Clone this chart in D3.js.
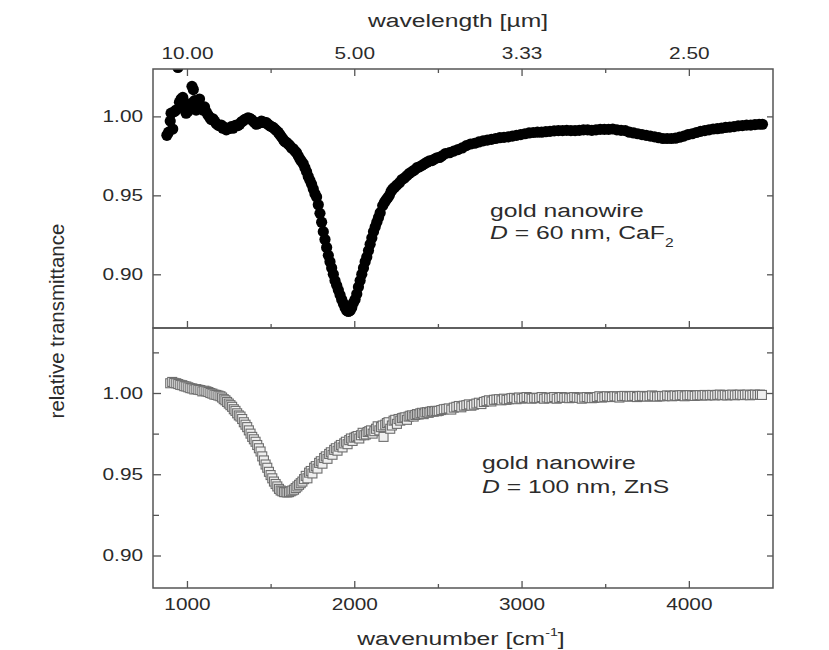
<!DOCTYPE html>
<html>
<head>
<meta charset="utf-8">
<script src="https://cdn.jsdelivr.net/npm/d3@7"></script>
<style>
  body { margin: 0; background: #fff; }
  svg { display: block; font-family: "Liberation Sans", Arial, sans-serif; }
</style>
</head>
<body>
<svg id="chart" width="829" height="650"></svg>
<script>
// tick values (wavenumber in cm^-1, transmittance)
var wavenumberTicks = [1000, 2000, 3000, 4000];
var wavenumberMinor = [1500, 2500, 3500];
var transTicks = [0.90, 0.95, 1.00];
var transMinorLower = [0.925, 0.975, 1.025];

// upper panel: D = 60 nm on CaF2, [wavenumber, relative transmittance]
var caF2Series = [
  [880,0.988],[890,0.990],[900,0.997],[905,1.002],[915,0.992],[925,1.003],[935,1.004],[946,1.031],
  [955,1.009],[965,1.011],[975,1.012],[985,1.005],[995,1.002],[1005,1.003],[1015,1.008],[1030,1.019],
  [1038,1.017],[1045,1.010],[1055,1.004],[1065,1.009],[1075,1.011],[1085,1.006],[1095,1.004],[1105,1.006],
  [1115,1.003],[1125,1.001],[1135,0.9995],[1145,0.998],[1155,0.9985],[1165,0.997],[1175,0.9955],[1185,0.9945],
  [1195,0.994],[1205,0.9945],[1215,0.9925],[1225,0.993],[1235,0.9915],[1245,0.9922],[1255,0.9925],[1265,0.9935],
  [1275,0.9925],[1285,0.994],[1295,0.9945],[1305,0.9942],[1315,0.995],[1325,0.9965],[1335,0.997],[1345,0.998],
  [1355,0.9985],[1365,0.999],[1375,0.9988],[1385,0.998],[1395,0.997],[1405,0.996],[1415,0.995],[1425,0.9955],
  [1435,0.996],[1445,0.997],[1455,0.9965],[1465,0.996],[1475,0.996],[1485,0.995],[1495,0.994],[1505,0.9935],
  [1515,0.993],[1525,0.992],[1535,0.991],[1545,0.990],[1555,0.9885],[1565,0.987],[1575,0.9855],[1585,0.984],
  [1595,0.9835],[1605,0.9825],[1615,0.9815],[1625,0.980],[1635,0.9795],[1645,0.978],[1655,0.977],[1665,0.975],
  [1675,0.973],[1685,0.9715],[1695,0.970],[1705,0.9675],[1715,0.965],[1725,0.962],[1735,0.9595],[1745,0.957],
  [1755,0.954],[1765,0.951],[1775,0.949],[1785,0.944],[1795,0.9386],[1805,0.933],[1815,0.927],[1825,0.922],
  [1835,0.917],[1845,0.912],[1855,0.908],[1865,0.904],[1875,0.900],[1885,0.896],[1895,0.893],[1905,0.890],
  [1915,0.887],[1925,0.884],[1935,0.8815],[1945,0.879],[1955,0.877],[1965,0.8765],[1975,0.877],[1985,0.879],
  [1995,0.882],[2005,0.884],[2015,0.8875],[2025,0.892],[2035,0.896],[2045,0.900],[2055,0.904],[2065,0.908],
  [2075,0.911],[2085,0.915],[2095,0.919],[2105,0.923],[2115,0.927],[2125,0.930],[2135,0.933],[2145,0.936],
  [2155,0.939],[2170,0.9435],[2180,0.9455],[2190,0.947],[2200,0.9485],[2210,0.950],[2220,0.9525],[2230,0.954],
  [2240,0.955],[2255,0.9565],[2270,0.958],[2285,0.960],[2300,0.961],[2315,0.9625],[2330,0.964],[2345,0.965],
  [2360,0.966],[2375,0.9675],[2390,0.968],[2405,0.969],[2420,0.970],[2435,0.971],[2450,0.9718],[2465,0.972],
  [2480,0.973],[2495,0.9738],[2510,0.974],[2525,0.975],[2545,0.9765],[2570,0.977],[2595,0.978],[2620,0.979],
  [2645,0.980],[2670,0.9815],[2695,0.9825],[2720,0.983],[2745,0.9838],[2770,0.9845],[2795,0.985],[2820,0.9855],
  [2845,0.986],[2870,0.9865],[2895,0.9867],[2920,0.987],[2945,0.9875],[2970,0.988],[2995,0.9885],[3020,0.989],
  [3045,0.9895],[3070,0.9898],[3095,0.990],[3120,0.990],[3145,0.9903],[3170,0.9905],[3195,0.9908],[3220,0.991],
  [3245,0.991],[3270,0.9912],[3295,0.991],[3320,0.991],[3345,0.9912],[3370,0.9915],[3395,0.9915],[3420,0.9912],
  [3445,0.9915],[3470,0.9918],[3495,0.9918],[3520,0.9918],[3545,0.992],[3570,0.9915],[3595,0.9912],[3620,0.991],
  [3645,0.990],[3670,0.9895],[3695,0.989],[3720,0.9885],[3745,0.988],[3770,0.9875],[3795,0.987],[3820,0.9865],
  [3845,0.986],[3870,0.986],[3895,0.986],[3920,0.9862],[3945,0.9868],[3970,0.9875],[3995,0.9885],[4020,0.989],
  [4045,0.9898],[4070,0.9905],[4095,0.991],[4120,0.9915],[4145,0.992],[4170,0.9922],[4195,0.9925],[4220,0.993],
  [4245,0.9932],[4270,0.9935],[4295,0.994],[4320,0.9942],[4345,0.9945],[4370,0.9945],[4395,0.9948],[4420,0.995],
  [4440,0.995]
];

// lower panel: D = 100 nm on ZnS
var znSSeries = [
  [900,1.006],[912,1.0068],[924,1.0062],[936,1.006],[948,1.0055],[960,1.005],[972,1.0048],[984,1.0042],
  [996,1.004],[1008,1.0035],[1020,1.003],[1032,1.0028],[1044,1.0022],[1056,1.0024],[1068,1.002],[1080,1.0018],
  [1092,1.001],[1104,1.0014],[1116,1.001],[1128,1.0006],[1140,1.000],[1152,0.9996],[1164,0.999],[1176,0.9988],
  [1188,0.9984],[1200,0.998],[1210,0.9972],[1220,0.9962],[1230,0.9955],[1240,0.9945],[1250,0.9935],[1260,0.9925],
  [1270,0.9915],[1280,0.990],[1290,0.989],[1300,0.9875],[1310,0.9862],[1320,0.9855],[1330,0.984],[1340,0.982],
  [1350,0.9805],[1360,0.979],[1370,0.977],[1380,0.975],[1390,0.973],[1400,0.9715],[1410,0.970],[1420,0.968],
  [1430,0.966],[1440,0.964],[1450,0.961],[1460,0.9585],[1470,0.956],[1480,0.954],[1490,0.9515],[1500,0.9495],
  [1510,0.9475],[1520,0.9455],[1530,0.944],[1540,0.9425],[1550,0.941],[1560,0.940],[1570,0.9395],[1580,0.939],
  [1590,0.939],[1600,0.9388],[1610,0.939],[1620,0.9395],[1630,0.940],[1640,0.9405],[1650,0.9415],[1660,0.9425],
  [1670,0.9435],[1680,0.9445],[1690,0.9455],[1700,0.947],[1710,0.949],[1720,0.9475],[1730,0.951],[1740,0.952],
  [1750,0.9505],[1760,0.954],[1770,0.955],[1780,0.9535],[1790,0.957],[1800,0.958],[1810,0.9565],[1820,0.960],
  [1830,0.961],[1840,0.9595],[1850,0.9625],[1860,0.9635],[1870,0.962],[1880,0.965],[1890,0.966],[1900,0.9645],
  [1910,0.967],[1920,0.968],[1930,0.9665],[1940,0.969],[1950,0.970],[1960,0.9685],[1970,0.971],[1980,0.972],
  [1990,0.9705],[2000,0.9725],[2010,0.973],[2020,0.9735],[2030,0.972],[2040,0.974],[2050,0.9755],[2060,0.974],
  [2070,0.9745],[2080,0.976],[2090,0.9765],[2100,0.977],[2110,0.975],[2120,0.9765],[2130,0.978],[2140,0.9795],
  [2150,0.977],[2160,0.979],[2170,0.980],[2175,0.973],[2185,0.9805],[2195,0.9815],[2205,0.982],[2215,0.978],
  [2225,0.980],[2235,0.983],[2245,0.9835],[2255,0.981],[2265,0.984],[2275,0.983],[2285,0.9845],[2295,0.9848],
  [2305,0.985],[2315,0.9835],[2325,0.9855],[2335,0.986],[2345,0.9862],[2355,0.9855],[2365,0.9865],[2375,0.987],
  [2385,0.9868],[2395,0.9875],[2405,0.9878],[2415,0.987],[2425,0.988],[2435,0.9882],[2445,0.9878],[2455,0.9885],
  [2465,0.9888],[2475,0.9885],[2485,0.989],[2495,0.9888],[2505,0.989],[2520,0.9895],[2535,0.990],[2550,0.9902],
  [2565,0.9905],[2580,0.9898],[2595,0.991],[2610,0.9915],[2625,0.992],[2640,0.9912],[2655,0.9922],[2670,0.9925],
  [2685,0.993],[2700,0.9922],[2715,0.9928],[2730,0.9935],[2745,0.994],[2760,0.9932],[2775,0.9945],[2790,0.995],
  [2805,0.9955],[2820,0.9948],[2835,0.9958],[2850,0.996],[2865,0.9962],[2880,0.9955],[2895,0.9965],[2910,0.9958],
  [2925,0.9962],[2940,0.9968],[2955,0.997],[2970,0.9962],[2985,0.9972],[3000,0.9965],[3015,0.997],[3030,0.9975],
  [3045,0.997],[3060,0.9965],[3075,0.997],[3090,0.9968],[3105,0.997],[3120,0.9975],[3135,0.9965],[3150,0.9972],
  [3165,0.9968],[3180,0.997],[3195,0.9975],[3210,0.9965],[3225,0.997],[3240,0.9975],[3255,0.997],[3270,0.9972],
  [3285,0.9968],[3300,0.997],[3315,0.9975],[3330,0.9972],[3345,0.997],[3360,0.9965],[3375,0.9972],[3390,0.9975],
  [3405,0.997],[3420,0.9968],[3435,0.997],[3450,0.9975],[3465,0.998],[3480,0.9972],[3495,0.9975],[3510,0.998],
  [3525,0.9978],[3540,0.9975],[3555,0.998],[3570,0.9978],[3585,0.9972],[3600,0.998],[3615,0.9982],[3630,0.998],
  [3645,0.9978],[3660,0.998],[3675,0.9982],[3690,0.9975],[3705,0.998],[3720,0.9982],[3735,0.998],[3750,0.9978],
  [3765,0.998],[3780,0.9985],[3795,0.998],[3810,0.9978],[3825,0.998],[3840,0.9982],[3855,0.998],[3870,0.9985],
  [3885,0.9982],[3900,0.998],[3915,0.9985],[3930,0.9982],[3945,0.9985],[3960,0.9987],[3975,0.998],[3990,0.9985],
  [4005,0.9987],[4020,0.9985],[4035,0.9982],[4050,0.9985],[4065,0.9987],[4080,0.9985],[4095,0.9988],[4110,0.9985],
  [4125,0.9987],[4140,0.9988],[4155,0.9985],[4170,0.9988],[4185,0.999],[4200,0.9986],[4215,0.9988],[4230,0.9985],
  [4245,0.9988],[4260,0.999],[4275,0.9986],[4290,0.9988],[4305,0.999],[4320,0.9987],[4335,0.9988],[4350,0.999],
  [4365,0.9986],[4380,0.9988],[4395,0.999],[4410,0.9988],[4425,0.999],[4437,0.9988]
];

var frameColor = "#555";
var textColor = "#2b2b2b";
var stretch = 1.3;   // the reference lettering is wide, so text is scaled horizontally

var plotLeft = 153, plotRight = 773;
var upperTop = 69, split = 328, lowerBottom = 588;

var svg = d3.select("#chart");

var x = d3.scaleLinear().domain([797, 4503]).range([plotLeft, plotRight]);
var yUpper = d3.scaleLinear().domain([0.866, 1.030]).range([split, upperTop]);
var yLower = d3.scaleLinear().domain([0.88, 1.04]).range([lowerBottom, split]);

// Style the ticks of an axis group, drop its domain line
var styleAxis = function(g, fontSize) {
  g.attr("font-family", null).attr("font-size", fontSize);
  g.select(".domain").remove();
  g.selectAll("line").attr("stroke", frameColor).attr("stroke-width", 1.3);
  g.selectAll("text").attr("fill", textColor).attr("transform", "scale(" + stretch + ",1)");
};

var addAxis = function(axis, tx, ty) {
  var g = svg.append("g").attr("transform", "translate(" + tx + "," + ty + ")").call(axis);
  styleAxis(g, 16);
  return g;
};

// clip paths for both panels
var defs = svg.append("defs");
defs.append("clipPath").attr("id", "clipUpper").append("rect")
  .attr("x", plotLeft).attr("y", upperTop).attr("width", plotRight - plotLeft).attr("height", split - upperTop);
defs.append("clipPath").attr("id", "clipLower").append("rect")
  .attr("x", plotLeft).attr("y", split).attr("width", plotRight - plotLeft).attr("height", lowerBottom - split);

// ---- data ----
svg.append("g").attr("clip-path", "url(#clipUpper)")
  .selectAll("circle").data(caF2Series).join("circle")
  .attr("cx", d => x(d[0]))
  .attr("cy", d => yUpper(d[1]))
  .attr("r", 5.6)
  .attr("fill", "#000");

var sq = 9;
svg.append("g").attr("clip-path", "url(#clipLower)")
  .selectAll("rect").data(znSSeries).join("rect")
  .attr("x", d => x(d[0]) - sq / 2)
  .attr("y", d => yLower(d[1]) - sq / 2)
  .attr("width", sq).attr("height", sq)
  .attr("fill", "#efefef")
  .attr("stroke", "#6e6e6e")
  .attr("stroke-width", 1.1);

// ---- frames ----
[[upperTop, split], [split, lowerBottom]].forEach(function(p) {
  svg.append("rect")
    .attr("x", plotLeft).attr("y", p[0])
    .attr("width", plotRight - plotLeft).attr("height", p[1] - p[0])
    .attr("fill", "none").attr("stroke", frameColor).attr("stroke-width", 1.5);
});

// ---- x axes ----
// top: wavelength labels at the wavenumber positions
addAxis(d3.axisTop(x).tickValues(wavenumberTicks).tickSize(-7).tickPadding(10)
  .tickFormat(d => (1e4 / d).toFixed(2)), 0, upperTop);
addAxis(d3.axisTop(x).tickValues(wavenumberMinor).tickSize(-4).tickFormat(""), 0, upperTop);
// bottom edge of upper panel (ticks only)
addAxis(d3.axisBottom(x).tickValues(wavenumberTicks).tickSize(-7).tickFormat(""), 0, split);
addAxis(d3.axisBottom(x).tickValues(wavenumberMinor).tickSize(-4).tickFormat(""), 0, split);
// bottom of lower panel
addAxis(d3.axisBottom(x).tickValues(wavenumberTicks).tickSize(-7).tickPadding(11)
  .tickFormat(d3.format("d")), 0, lowerBottom);
addAxis(d3.axisBottom(x).tickValues(wavenumberMinor).tickSize(-4).tickFormat(""), 0, lowerBottom);

// ---- y axes ----
addAxis(d3.axisLeft(yUpper).tickValues(transTicks).tickSize(-8).tickPadding(10 / stretch)
  .tickFormat(d3.format(".2f")), plotLeft, 0);
addAxis(d3.axisRight(yUpper).tickValues(transTicks).tickSize(-6).tickFormat(""), plotRight, 0);

addAxis(d3.axisLeft(yLower).tickValues(transTicks).tickSize(-8).tickPadding(10 / stretch)
  .tickFormat(d3.format(".2f")), plotLeft, 0);
addAxis(d3.axisLeft(yLower).tickValues(transMinorLower).tickSize(-6).tickFormat(""), plotLeft, 0);
addAxis(d3.axisRight(yLower).tickValues(transTicks.concat(transMinorLower)).tickSize(-6).tickFormat(""), plotRight, 0);

// ---- titles ----
var wideText = function(tx, ty, size, anchor) {
  return svg.append("g").attr("transform", "translate(" + tx + "," + ty + ") scale(" + stretch + ",1)")
    .append("text")
    .attr("font-size", size)
    .attr("fill", textColor)
    .attr("text-anchor", anchor);
};

wideText(458, 27, 19, "middle").text("wavelength [\u00b5m]");

var xt = wideText(461, 645, 19, "middle");
xt.append("tspan").text("wavenumber [cm");
xt.append("tspan").attr("font-size", 11).attr("dy", -9).text("-1");
xt.append("tspan").attr("dy", 9).text("]");

svg.append("text")
  .attr("transform", "translate(64,321) rotate(-90)")
  .attr("text-anchor", "middle")
  .attr("font-size", 20.5)
  .attr("fill", textColor)
  .text("relative transmittance");

// ---- in-plot labels ----
wideText(490, 217, 19, "start").text("gold nanowire");
var l1 = wideText(490, 239, 19, "start");
l1.append("tspan").attr("font-style", "italic").text("D");
l1.append("tspan").text(" = 60 nm, CaF");
l1.append("tspan").attr("font-size", 12).attr("dy", 8).text("2");

wideText(482, 469, 19, "start").text("gold nanowire");
var l2 = wideText(482, 493, 19, "start");
l2.append("tspan").attr("font-style", "italic").text("D");
l2.append("tspan").text(" = 100 nm, ZnS");
</script>
</body>
</html>
